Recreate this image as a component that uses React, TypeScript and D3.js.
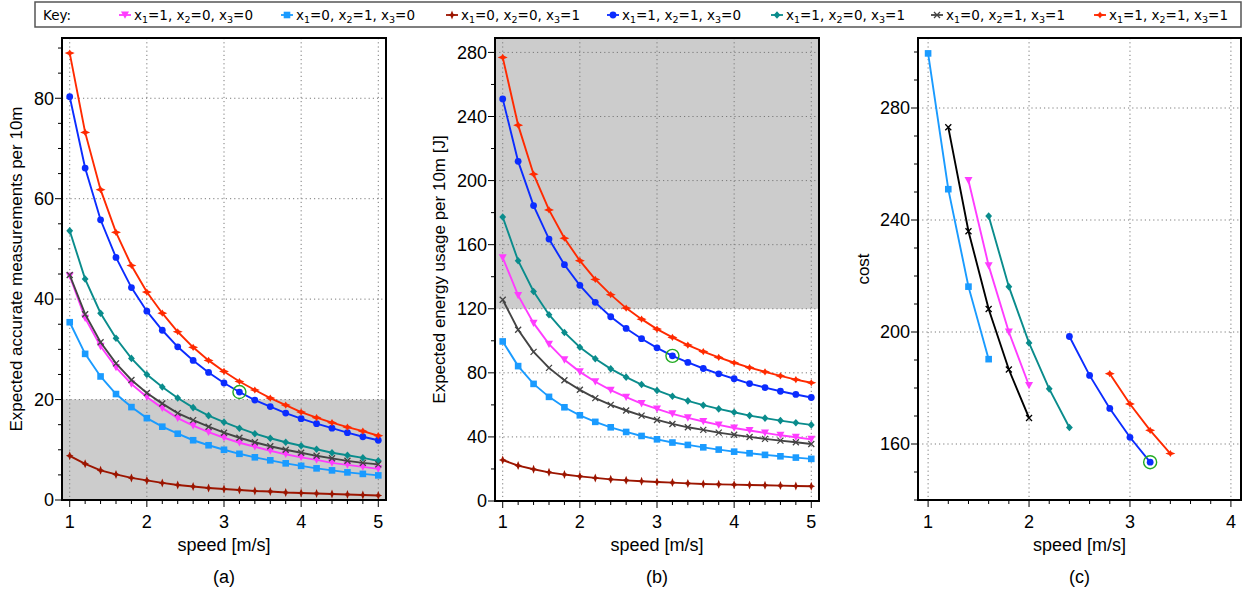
import * as d3 from 'd3'

// speeds used in panels (a) and (b)
const speeds = [1, 1.2, 1.4, 1.6, 1.8, 2, 2.2, 2.4, 2.6, 2.8, 3, 3.2, 3.4, 3.6, 3.8, 4, 4.2, 4.4, 4.6, 4.8, 5]

// (a) expected accurate measurements per 10m
const measPink = [44.6, 36.2, 30.6, 26.4, 23.1, 20.5, 18.3, 16.3, 14.8, 13.5, 12.4, 11.4, 10.6, 9.8, 9.1, 8.5, 8.0, 7.4, 7.0, 6.6, 6.2]
const measLightBlue = [35.4, 29.1, 24.6, 21.1, 18.5, 16.3, 14.6, 13.2, 11.9, 10.9, 10.0, 9.2, 8.5, 7.9, 7.3, 6.8, 6.3, 5.9, 5.5, 5.2, 4.9]
const measDarkRed = [8.8, 7.2, 5.9, 5.1, 4.4, 3.9, 3.4, 3.0, 2.7, 2.4, 2.2, 2.0, 1.8, 1.7, 1.5, 1.4, 1.3, 1.2, 1.1, 1.0, 0.9]
const measBlue = [80.3, 66.1, 55.8, 48.3, 42.3, 37.6, 33.8, 30.5, 27.8, 25.4, 23.3, 21.5, 19.9, 18.6, 17.3, 16.2, 15.2, 14.3, 13.4, 12.6, 11.9]
const measTeal = [53.6, 44.0, 37.2, 32.2, 28.2, 25.0, 22.5, 20.3, 18.4, 16.8, 15.5, 14.3, 13.2, 12.3, 11.5, 10.8, 10.1, 9.4, 8.9, 8.4, 7.8]
const measGray = [44.8, 37.0, 31.4, 27.2, 23.9, 21.3, 19.2, 17.3, 15.9, 14.6, 13.4, 12.4, 11.5, 10.7, 10.0, 9.4, 8.8, 8.3, 7.8, 7.4, 7.1]
const measRed = [89.0, 73.2, 61.8, 53.3, 46.7, 41.4, 37.2, 33.5, 30.4, 27.8, 25.6, 23.6, 21.9, 20.3, 18.9, 17.5, 16.4, 15.4, 14.5, 13.7, 12.8]

// (b) expected energy usage per 10m [J]
const energyPink = [151.9, 128.3, 111.0, 97.9, 88.1, 80.6, 74.4, 69.2, 64.8, 60.8, 57.5, 54.4, 51.9, 49.6, 47.5, 45.6, 44.0, 42.5, 41.0, 39.8, 38.5]
const energyLightBlue = [99.6, 84.2, 73.1, 65.0, 58.5, 53.5, 49.4, 46.0, 43.1, 40.6, 38.5, 36.5, 35.0, 33.5, 32.1, 30.8, 29.8, 28.8, 27.9, 27.1, 26.3]
const energyDarkRed = [25.6, 22.1, 19.8, 17.9, 16.5, 15.4, 14.4, 13.5, 12.9, 12.3, 11.9, 11.5, 11.0, 10.6, 10.4, 10.2, 10.0, 9.8, 9.6, 9.4, 9.2]
const energyBlue = [251.0, 212.0, 184.4, 163.5, 147.5, 134.6, 124.0, 115.0, 107.7, 101.3, 95.6, 90.6, 86.5, 82.7, 79.4, 76.3, 73.3, 70.8, 68.5, 66.5, 64.6]
const energyTeal = [177.3, 150.0, 130.8, 116.3, 105.2, 96.0, 88.8, 82.5, 77.3, 72.7, 69.0, 65.4, 62.5, 59.8, 57.5, 55.4, 53.3, 51.7, 50.2, 48.8, 47.5]
const energyGray = [125.6, 106.9, 93.1, 83.1, 75.4, 69.4, 64.2, 60.0, 56.5, 53.3, 50.6, 48.1, 46.0, 44.4, 42.7, 41.3, 40.0, 38.8, 37.7, 36.7, 35.6]
const energyRed = [276.9, 234.6, 204.0, 181.7, 164.0, 150.0, 138.3, 128.8, 120.4, 113.5, 107.3, 102.1, 97.3, 93.3, 89.6, 86.3, 83.3, 80.6, 78.1, 75.8, 73.8]

// (c) cost, each configuration on its own speed range
const costPinkX = [1.4, 1.6, 1.8, 2.0]
const costPink = [254.1, 223.7, 200.0, 180.9]
const costLightBlueX = [1.0, 1.2, 1.4, 1.6]
const costLightBlue = [299.5, 251.0, 216.2, 190.3]
const costBlueX = [2.4, 2.6, 2.8, 3.0, 3.2]
const costBlue = [198.4, 184.5, 172.7, 162.4, 153.5]
const costTealX = [1.6, 1.8, 2.0, 2.2, 2.4]
const costTeal = [241.4, 216.2, 196.1, 179.7, 165.9]
const costGrayX = [1.2, 1.4, 1.6, 1.8, 2.0]
const costGray = [273.1, 236.0, 208.2, 186.6, 169.3]
const costRedX = [2.8, 3.0, 3.2, 3.4]
const costRed = [185.1, 174.3, 164.9, 156.6]

// chosen optimum (green circle)
const bestSpeed = 3.2
const bestMeas = 21.5
const bestEnergy = 90.6
const bestCost = 153.5

const xTicksAB = [1, 2, 3, 4, 5]
const xTicksC = [1, 2, 3, 4]
const yTicksA = [0, 20, 40, 60, 80]
const yTicksB = [0, 40, 80, 120, 160, 200, 240, 280]
const yTicksC = [160, 200, 240, 280]

type Kind = 'tri' | 'square' | 'star' | 'circle' | 'diamond' | 'cross' | 'hstar'

const keys: { label: [string, string, string]; color: string; kind: Kind }[] = [
  { label: ['1', '0', '0'], color: '#ff3cff', kind: 'tri' },
  { label: ['0', '1', '0'], color: '#1a9bff', kind: 'square' },
  { label: ['0', '0', '1'], color: '#9c1500', kind: 'star' },
  { label: ['1', '1', '0'], color: '#0b2cff', kind: 'circle' },
  { label: ['1', '0', '1'], color: '#0a8c8c', kind: 'diamond' },
  { label: ['0', '1', '1'], color: '#444444', kind: 'cross' },
  { label: ['1', '1', '1'], color: '#ff2a00', kind: 'hstar' },
]

function Marker({ kind, x, y, color }: { kind: Kind; x: number; y: number; color: string }) {
  switch (kind) {
    case 'tri':
      return <path d={`M${x - 4},${y - 3.5}L${x + 4},${y - 3.5}L${x},${y + 3.8}Z`} fill={color} />
    case 'square':
      return <rect x={x - 3.3} y={y - 3.3} width={6.6} height={6.6} fill={color} />
    case 'star':
      return <path d={`M${x},${y - 4.5}L${x + 1.3},${y - 1.3}L${x + 3.8},${y}L${x + 1.3},${y + 1.3}L${x},${y + 4.5}L${x - 1.3},${y + 1.3}L${x - 3.8},${y}L${x - 1.3},${y - 1.3}Z`} fill={color} />
    case 'circle':
      return <circle cx={x} cy={y} r={3.4} fill={color} />
    case 'diamond':
      return <path d={`M${x},${y - 3.8}L${x + 3.4},${y}L${x},${y + 3.8}L${x - 3.4},${y}Z`} fill={color} />
    case 'cross':
      return <path d={`M${x - 3},${y - 3}L${x + 3},${y + 3}M${x - 3},${y + 3}L${x + 3},${y - 3}`} stroke={color} strokeWidth={1.3} />
    case 'hstar':
      return <path d={`M${x - 5},${y}L${x - 1.3},${y - 1.6}L${x},${y - 3.6}L${x + 1.3},${y - 1.6}L${x + 5},${y}L${x + 1.3},${y + 1.6}L${x},${y + 3.6}L${x - 1.3},${y + 1.6}Z`} fill={color} />
  }
}

type Series = { xs: number[]; ys: number[]; key: number; color?: string }

type PanelProps = {
  left: number; right: number; top: number; bottom: number
  xDomain: [number, number]; yDomain: [number, number]
  xTicks: number[]; yTicks: number[]; yMinor: number
  shade?: [number, number]
  series: Series[]
  best: [number, number]
  ylabel: string; ylabelX: number
  tag: string
}

const tickFont = '"Liberation Sans", Arial, sans-serif'

function Panel(p: PanelProps) {
  const x = d3.scaleLinear().domain(p.xDomain).range([p.left, p.right])
  const y = d3.scaleLinear().domain(p.yDomain).range([p.bottom, p.top])
  const xMinor = d3.range(Math.ceil(p.xDomain[0] * 5), Math.floor(p.xDomain[1] * 5) + 1).map(d => d / 5)
  const yMinor = d3.range(Math.ceil(p.yDomain[0] / p.yMinor), Math.floor(p.yDomain[1] / p.yMinor) + 1).map(d => d * p.yMinor)
  const line = d3.line<[number, number]>().x(d => x(d[0])).y(d => y(d[1]))
  const cx = (p.left + p.right) / 2
  const cy = (p.top + p.bottom) / 2
  return (
    <g>
      <rect x={p.left} y={p.top} width={p.right - p.left} height={p.bottom - p.top} fill="#fff" />
      {p.shade && (
        <rect x={p.left} y={y(p.shade[1])} width={p.right - p.left} height={y(p.shade[0]) - y(p.shade[1])} fill="#cccccc" />
      )}
      {p.xTicks.map(t => (
        <line key={'gx' + t} x1={x(t)} x2={x(t)} y1={p.top} y2={p.bottom} stroke="#7a7a7a" strokeDasharray="1.2,3" />
      ))}
      {p.yTicks.filter(t => t > p.yDomain[0]).map(t => (
        <line key={'gy' + t} x1={p.left} x2={p.right} y1={y(t)} y2={y(t)} stroke="#7a7a7a" strokeDasharray="1.2,3" />
      ))}
      {p.series.map((s, i) => {
        const k = keys[s.key]
        const color = s.color ?? k.color
        const pts = s.xs.map((v, j) => [v, s.ys[j]] as [number, number])
        return (
          <g key={i}>
            <path d={line(pts) ?? ''} fill="none" stroke={color} strokeWidth={1.9} />
            {pts.map((d, j) => <Marker key={j} kind={k.kind} x={x(d[0])} y={y(d[1])} color={color} />)}
          </g>
        )
      })}
      <circle cx={x(p.best[0])} cy={y(p.best[1])} r={6.5} fill="none" stroke="#22aa22" strokeWidth={1.4} />
      <rect x={p.left} y={p.top} width={p.right - p.left} height={p.bottom - p.top} fill="none" stroke="#000" strokeWidth={2} />
      {xMinor.map(t => (
        <line key={'mx' + t} x1={x(t)} x2={x(t)} y1={p.bottom} y2={p.bottom + (p.xTicks.includes(t) ? 7 : 4)} stroke="#000" strokeWidth={1} />
      ))}
      {yMinor.map(t => (
        <line key={'my' + t} x1={p.left} x2={p.left - (p.yTicks.includes(t) ? 7 : 4)} y1={y(t)} y2={y(t)} stroke="#000" strokeWidth={1} />
      ))}
      {p.xTicks.map(t => (
        <text key={'lx' + t} x={x(t)} y={522} dy="0.35em" textAnchor="middle" fontFamily={tickFont} fontSize={18}>{t}</text>
      ))}
      {p.yTicks.map(t => (
        <text key={'ly' + t} x={p.left - 8} y={y(t)} dy="0.35em" textAnchor="end" fontFamily={tickFont} fontSize={18}>{t}</text>
      ))}
      <text x={cx} y={545} dy="0.35em" textAnchor="middle" fontFamily={tickFont} fontSize={18}>speed [m/s]</text>
      <text x={cx} y={577} dy="0.35em" textAnchor="middle" fontFamily={tickFont} fontSize={18}>{p.tag}</text>
      <text transform={`translate(${p.ylabelX},${cy}) rotate(-90)`} dy="0.35em" textAnchor="middle" fontFamily={tickFont} fontSize={17}>{p.ylabel}</text>
    </g>
  )
}

const legendX = [125, 287, 452, 613, 777, 937, 1100]

function Legend() {
  const f = '"DejaVu Sans", sans-serif'
  return (
    <g fontFamily={f} fontSize={13.5}>
      <rect x={35} y={2} width={1206} height={25} fill="#fff" stroke="#555" strokeWidth={1.5} />
      <text x={43} y={15} dy="0.35em">Key:</text>
      {keys.map((k, i) => (
        <g key={i}>
          <line x1={legendX[i] - 6} x2={legendX[i] + 6} y1={15} y2={15} stroke={k.color} strokeWidth={1.8} />
          <Marker kind={k.kind} x={legendX[i]} y={15} color={k.color} />
          <text x={legendX[i] + 9} y={15} dy="0.35em">
            x<tspan fontSize={9.5} dy={3}>1</tspan><tspan dy={-3}>={k.label[0]}, x</tspan>
            <tspan fontSize={9.5} dy={3}>2</tspan><tspan dy={-3}>={k.label[1]}, x</tspan>
            <tspan fontSize={9.5} dy={3}>3</tspan><tspan dy={-3}>={k.label[2]}</tspan>
          </text>
        </g>
      ))}
    </g>
  )
}

export default function App() {
  const measSeries: Series[] = [measPink, measLightBlue, measDarkRed, measBlue, measTeal, measGray, measRed]
    .map((ys, key) => ({ xs: speeds, ys, key }))
  const energySeries: Series[] = [energyPink, energyLightBlue, energyDarkRed, energyBlue, energyTeal, energyGray, energyRed]
    .map((ys, key) => ({ xs: speeds, ys, key }))
  const costSeries: Series[] = [
    { xs: costPinkX, ys: costPink, key: 0 },
    { xs: costLightBlueX, ys: costLightBlue, key: 1 },
    { xs: costBlueX, ys: costBlue, key: 3 },
    { xs: costTealX, ys: costTeal, key: 4 },
    { xs: costGrayX, ys: costGray, key: 5, color: '#000' },
    { xs: costRedX, ys: costRed, key: 6 },
  ]
  return (
    <svg width={1248} height={593} style={{ position: 'absolute', left: 0, top: 0, background: '#fff' }}>
      <rect width={1248} height={593} fill="#fff" />
      <Legend />
      <Panel left={62} right={386} top={38} bottom={500} xDomain={[0.9, 5.1]} yDomain={[0, 92]}
        xTicks={xTicksAB} yTicks={yTicksA} yMinor={5} shade={[0, 20]} series={measSeries}
        best={[bestSpeed, bestMeas]} ylabel="Expected accurate measurements per 10m" ylabelX={16} tag="(a)" />
      <Panel left={495} right={819} top={38} bottom={501} xDomain={[0.9, 5.1]} yDomain={[0, 289]}
        xTicks={xTicksAB} yTicks={yTicksB} yMinor={20} shade={[120, 289]} series={energySeries}
        best={[bestSpeed, bestEnergy]} ylabel="Expected energy usage per 10m [J]" ylabelX={439} tag="(b)" />
      <Panel left={918} right={1241} top={38} bottom={500} xDomain={[0.9, 4.1]} yDomain={[140, 305]}
        xTicks={xTicksC} yTicks={yTicksC} yMinor={10} series={costSeries}
        best={[bestSpeed, bestCost]} ylabel="cost" ylabelX={863} tag="(c)" />
    </svg>
  )
}
